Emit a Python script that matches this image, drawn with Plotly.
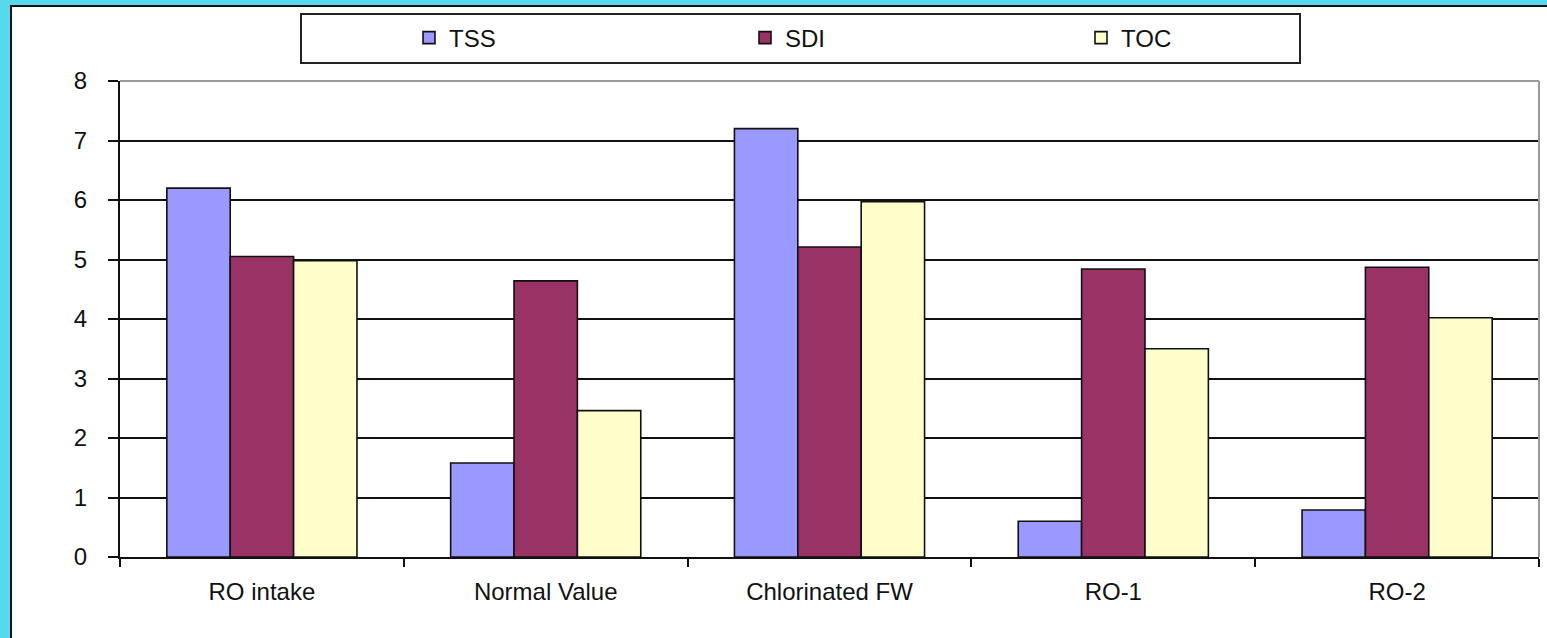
import plotly.graph_objects as go

categories = ["RO intake", "Normal Value", "Chlorinated FW", "RO-1", "RO-2"]
tss = [6.2, 1.58, 7.2, 0.6, 0.79]
sdi = [5.05, 4.64, 5.21, 4.84, 4.87]
toc = [4.98, 2.46, 5.97, 3.5, 4.02]
y_ticks = [0, 1, 2, 3, 4, 5, 6, 7, 8]

W, H = 1547, 638
L, R, T, B = 120, 1539, 81, 557
pw, ph = R - L, B - T

def px(x):
    return (x - L) / pw

def py(y):
    return (B - y) / ph

FONT = "Liberation Sans, Arial, sans-serif"

fig = go.Figure()
for name, vals, col in [("TSS", tss, "#9999FF"), ("SDI", sdi, "#993366"), ("TOC", toc, "#FFFFCC")]:
    fig.add_trace(go.Bar(name=name, x=categories, y=vals, marker=dict(color=col, line=dict(color="#111111", width=1.6))))

shapes = [
    # white panel
    dict(type="rect", xref="paper", yref="paper", x0=px(11), x1=px(1560), y0=py(650), y1=py(6),
         fillcolor="white", line=dict(color="#111111", width=2), layer="below"),
    # legend box
    dict(type="rect", xref="paper", yref="paper", x0=px(301), x1=px(1300), y0=py(63), y1=py(14),
         fillcolor="white", line=dict(color="#222222", width=2), layer="below"),
    # plot area top/right border in gray
    dict(type="line", xref="paper", yref="paper", x0=0, x1=1, y0=1, y1=1,
         line=dict(color="#9a9a9a", width=2), layer="above"),
    dict(type="line", xref="paper", yref="paper", x0=1, x1=1, y0=0, y1=1,
         line=dict(color="#9a9a9a", width=2), layer="above"),
]

fig.update_layout(
    width=W, height=H,
    margin=dict(l=L, r=W - R, t=T, b=H - B, pad=0, autoexpand=False),
    paper_bgcolor="#58D8EC",
    plot_bgcolor="white",
    barmode="group",
    bargap=0.33,
    bargroupgap=0,
    font=dict(family=FONT, size=24, color="#111111"),
    showlegend=True,
    legend=dict(orientation="h", x=px(409), y=py(38), xanchor="left", yanchor="middle",
                bgcolor="rgba(0,0,0,0)", entrywidth=291, entrywidthmode="pixels",
                font=dict(family=FONT, size=24, color="#111111"), itemwidth=30, tracegroupgap=0),
    shapes=shapes,
)
fig.update_xaxes(
    type="category", showline=True, linecolor="#111111", linewidth=2,
    ticks="outside", tickson="boundaries", ticklen=8, tickwidth=2, tickcolor="#111111",
    showgrid=False, ticklabelstandoff=12,
)
fig.update_yaxes(
    range=[0, 8], tickvals=y_ticks, showline=True, linecolor="#111111", linewidth=2,
    ticks="outside", ticklen=10, tickwidth=2, tickcolor="#111111",
    showgrid=True, gridcolor="#111111", gridwidth=1.6, zeroline=False,
    ticklabelstandoff=16,
)

fig.write_html("out.html", config={"displayModeBar": False},
               post_script="document.body.style.margin='0';document.body.style.overflow='hidden';")
